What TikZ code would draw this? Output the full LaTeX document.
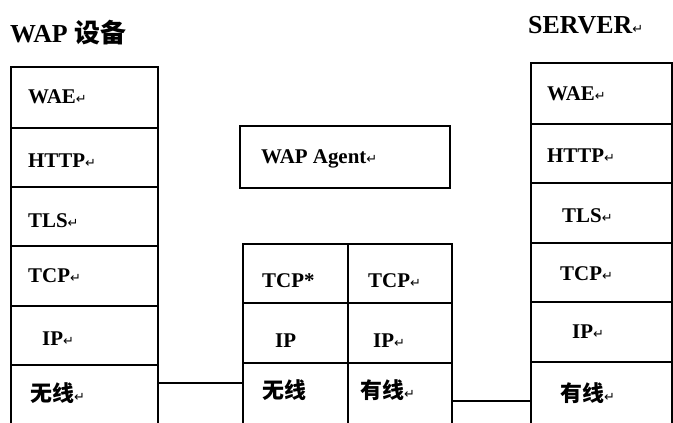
\documentclass[tikz,border=0pt]{standalone}
\usepackage{fontspec}
\setmainfont{Liberation Serif}
\newfontfamily\cjk{Noto Sans CJK SC}
\newfontfamily\symfont{DejaVu Sans}
\newcommand\retmark{{\symfont\mdseries\fontsize{13}{13}\selectfont ↵}}
\begin{document}
\begin{tikzpicture}[x=1bp,y=-1bp,
  cell/.style={draw, line width=1.8bp, inner sep=0, anchor=north west},
  lab/.style={anchor=base west, inner sep=0, font=\fontsize{21}{21}\selectfont\bfseries},
  cjklab/.style={anchor=base west, inner sep=0, font=\cjk\fontsize{22}{22}\selectfont\bfseries},
  ttl/.style={anchor=base west, inner sep=0, font=\fontsize{26}{26}\selectfont\bfseries},
  link/.style={line width=1.4bp}]
\useasboundingbox (0,0) rectangle (673,422);
\clip (0,0) rectangle (673,422);
% titles
\node[ttl] (tw) at (10,42) {WAP {\cjk 设备}};
\node[ttl] (ts) at (528,33) {SERVER\retmark};
% left stack
\node[cell, minimum width=147bp, minimum height=61bp] (l1) at (10,66) {};
\node[cell, minimum width=147bp, minimum height=59bp] (l2) at (10,127) {};
\node[cell, minimum width=147bp, minimum height=59bp] (l3) at (10,186) {};
\node[cell, minimum width=147bp, minimum height=60bp] (l4) at (10,245) {};
\node[cell, minimum width=147bp, minimum height=59bp] (l5) at (10,305) {};
\node[cell, minimum width=147bp, minimum height=62bp] (l6) at (10,364) {};
\node[lab] (tl1) at (28,103) {WAE\retmark};
\node[lab] (tl2) at (28,167) {HTTP\retmark};
\node[lab] (tl3) at (28,227) {TLS\retmark};
\node[lab] (tl4) at (28,282) {TCP\retmark};
\node[lab] (tl5) at (42,345) {IP\retmark};
\node[cjklab] (tl6) at (30,401) {无线\retmark};
% agent
\node[cell, minimum width=210bp, minimum height=62bp] (ag) at (239,125) {};
\node[lab] (tag) at (261,163) {WAP Agent\retmark};
% middle stack
\node[cell, minimum width=105bp, minimum height=59bp] (m1a) at (242,243) {};
\node[cell, minimum width=104bp, minimum height=59bp] (m1b) at (347,243) {};
\node[cell, minimum width=105bp, minimum height=60bp] (m2a) at (242,302) {};
\node[cell, minimum width=104bp, minimum height=60bp] (m2b) at (347,302) {};
\node[cell, minimum width=105bp, minimum height=64bp] (m3a) at (242,362) {};
\node[cell, minimum width=104bp, minimum height=64bp] (m3b) at (347,362) {};
\node[lab] (tm1a) at (262,287) {TCP*};
\node[lab] (tm1b) at (368,287) {TCP\retmark};
\node[lab] (tm2a) at (275,347) {IP};
\node[lab] (tm2b) at (373,347) {IP\retmark};
\node[cjklab] (tm3a) at (262,398) {无线};
\node[cjklab] (tm3b) at (360,398) {有线\retmark};
% right stack
\node[cell, minimum width=141bp, minimum height=61bp] (r1) at (530,62) {};
\node[cell, minimum width=141bp, minimum height=59bp] (r2) at (530,123) {};
\node[cell, minimum width=141bp, minimum height=60bp] (r3) at (530,182) {};
\node[cell, minimum width=141bp, minimum height=59bp] (r4) at (530,242) {};
\node[cell, minimum width=141bp, minimum height=60bp] (r5) at (530,301) {};
\node[cell, minimum width=141bp, minimum height=65bp] (r6) at (530,361) {};
\node[lab] (tr1) at (547,100) {WAE\retmark};
\node[lab] (tr2) at (547,162) {HTTP\retmark};
\node[lab] (tr3) at (562,222) {TLS\retmark};
\node[lab] (tr4) at (560,280) {TCP\retmark};
\node[lab] (tr5) at (572,338) {IP\retmark};
\node[cjklab] (tr6) at (560,401) {有线\retmark};
% links
\draw[link] (l6.east |- 0,383) -- (m3a.west |- 0,383);
\draw[link] (m3b.east |- 0,401) -- (r6.west |- 0,401);
\end{tikzpicture}
\end{document}
